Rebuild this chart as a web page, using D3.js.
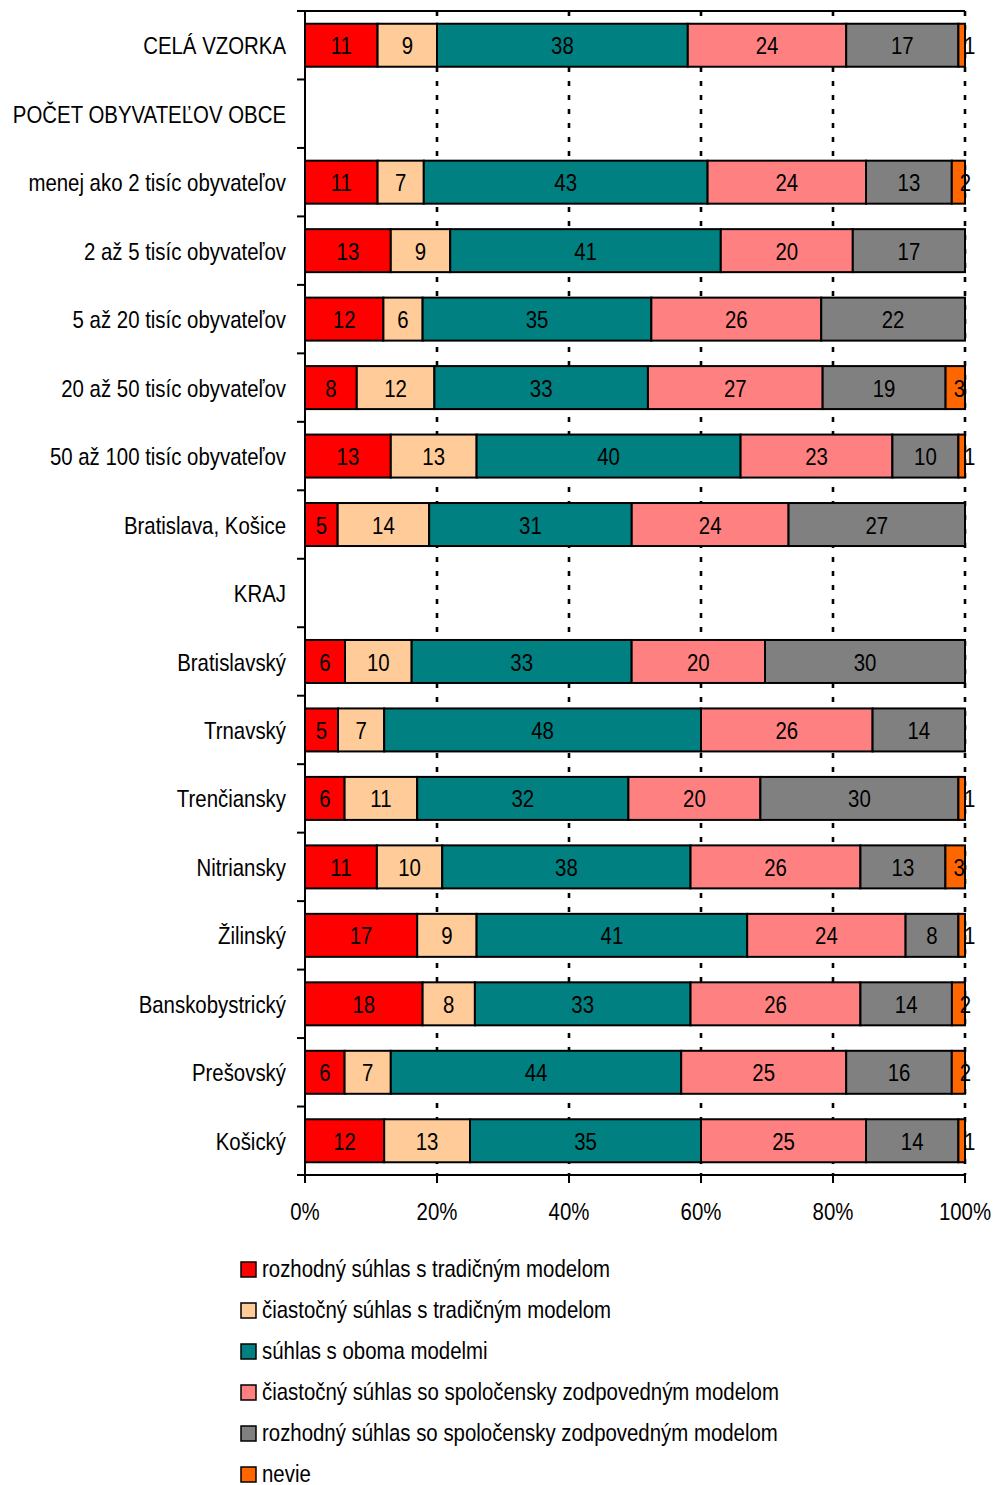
<!DOCTYPE html>
<html><head><meta charset="utf-8">
<script src="https://cdn.jsdelivr.net/npm/d3@7"></script>
<style>
body{margin:0;background:#fff;}
text{font-family:'Liberation Sans','Arial',sans-serif;}
</style></head>
<body><svg id="c" width="993" height="1485"></svg>
<script>
const categories = ["CELÁ VZORKA","POČET OBYVATEĽOV OBCE","menej ako 2 tisíc obyvateľov","2 až 5 tisíc obyvateľov","5 až 20 tisíc obyvateľov","20 až 50 tisíc obyvateľov","50 až 100 tisíc obyvateľov","Bratislava, Košice","KRAJ","Bratislavský","Trnavský","Trenčiansky","Nitriansky","Žilinský","Banskobystrický","Prešovský","Košický"];
const seriesNames = ["rozhodný súhlas s tradičným modelom","čiastočný súhlas s tradičným modelom","súhlas s oboma modelmi","čiastočný súhlas so spoločensky zodpovedným modelom","rozhodný súhlas so spoločensky zodpovedným modelom","nevie"];
const colors = ["#ff0000","#ffcc99","#008080","#ff8080","#808080","#ff6600"];
const rozhodnyTrad   = [11,null,11,13,12,8,13,5,null,6,5,6,11,17,18,6,12];
const ciastocnyTrad  = [9,null,7,9,6,12,13,14,null,10,7,11,10,9,8,7,13];
const obomaModelmi   = [38,null,43,41,35,33,40,31,null,33,48,32,38,41,33,44,35];
const ciastocnySpol  = [24,null,24,20,26,27,23,24,null,20,26,20,26,24,26,25,25];
const rozhodnySpol   = [17,null,13,17,22,19,10,27,null,30,14,30,13,8,14,16,14];
const nevie          = [1,null,2,0,0,3,1,0,null,0,0,1,3,1,2,2,1];
const xTicks = [0,20,40,60,80,100];

const series = [rozhodnyTrad,ciastocnyTrad,obomaModelmi,ciastocnySpol,rozhodnySpol,nevie];
const svg = d3.select("#c");
const pLeft = 305, pRight = 965, pTop = 11, pBottom = 1175;
const SX = 0.85, FS = 24;
const smallShift = {1:8, 2:7, 3:4};
const x = d3.scaleLinear().domain([0,100]).range([pLeft,pRight]);
const y = d3.scaleBand().domain(categories).range([pTop,pBottom]).paddingInner(0.372).paddingOuter(0.186);

function narrow(sel, fx, fy){
  return sel.attr("x",0).attr("y",0)
    .attr("transform",(d,i)=>`translate(${fx(d,i)},${fy(d,i)}) scale(${SX},1)`)
    .attr("font-size",FS).attr("fill","#000").attr("dominant-baseline","central");
}

// gridlines
svg.append("g").selectAll("line").data(xTicks.slice(1)).join("line")
  .attr("x1",d=>x(d)).attr("x2",d=>x(d)).attr("y1",pTop).attr("y2",pBottom)
  .attr("stroke","#000").attr("stroke-width",2.6).attr("stroke-dasharray","5,9");

// bars
const rows = categories.map((c,i)=>{
  if (series[0][i]==null) return null;
  const vals = series.map(s=>s[i]);
  const tot = d3.sum(vals);
  let cum = 0;
  return vals.map((v,k)=>{const o={cat:c,k,v,x0:cum/tot*100,x1:(cum+v)/tot*100};cum+=v;return o;});
}).filter(r=>r);
const segs = rows.flat().filter(d=>d.v>0);
const gb = svg.append("g");
gb.selectAll("rect").data(segs).join("rect")
  .attr("x",d=>x(d.x0)).attr("width",d=>x(d.x1)-x(d.x0))
  .attr("y",d=>y(d.cat)).attr("height",y.bandwidth())
  .attr("fill",d=>colors[d.k]).attr("stroke","#000").attr("stroke-width",2);
narrow(gb.selectAll("text").data(segs).join("text"),
  d=>(x(d.x0)+x(d.x1))/2 + (smallShift[d.v]||0), d=>y(d.cat)+y.bandwidth()/2+1)
  .attr("text-anchor","middle").text(d=>d.v);

// axes
const yAxis = svg.append("g").attr("transform",`translate(${pLeft},0)`);
yAxis.append("line").attr("x1",0).attr("x2",0).attr("y1",pTop).attr("y2",pBottom).attr("stroke","#000").attr("stroke-width",2);
const bounds = categories.map(c=>y(c)-y.step()*y.paddingInner()/2).concat([pBottom]);
bounds[0]=pTop;
yAxis.selectAll("line.t").data(bounds).join("line").attr("class","t")
  .attr("x1",-8).attr("x2",0).attr("y1",d=>d).attr("y2",d=>d).attr("stroke","#000").attr("stroke-width",2);
narrow(yAxis.selectAll("text").data(categories).join("text"),
  ()=>-19, d=>y(d)+y.bandwidth()/2+1).attr("text-anchor","end").text(d=>d);
svg.append("line").attr("x1",pLeft).attr("x2",pRight).attr("y1",pTop).attr("y2",pTop).attr("stroke","#000").attr("stroke-width",2);

const xAxis = svg.append("g").attr("transform",`translate(0,${pBottom})`);
xAxis.append("line").attr("x1",pLeft).attr("x2",pRight).attr("stroke","#000").attr("stroke-width",2);
xAxis.selectAll("line.t").data(xTicks).join("line").attr("class","t")
  .attr("x1",d=>x(d)).attr("x2",d=>x(d)).attr("y1",0).attr("y2",8).attr("stroke","#000").attr("stroke-width",2);
narrow(xAxis.selectAll("text").data(xTicks).join("text"), d=>x(d), ()=>37)
  .attr("text-anchor","middle").text(d=>d+"%");

// legend
const lg = svg.append("g").attr("transform","translate(241,1269)");
const li = lg.selectAll("g").data(seriesNames).join("g").attr("transform",(d,i)=>`translate(0,${i*41})`);
li.append("rect").attr("x",0).attr("y",-7).attr("width",15).attr("height",15)
  .attr("fill",(d,i)=>colors[i]).attr("stroke","#000").attr("stroke-width",1.5);
narrow(li.append("text"), ()=>21, ()=>0).text(d=>d);
</script></body></html>
